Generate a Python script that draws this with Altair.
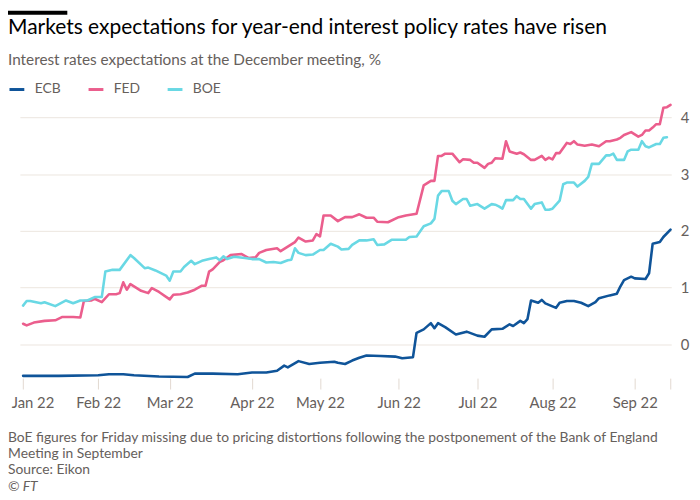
import altair as alt
import pandas as pd

# ---- data (x = trading-day index since 3 Jan 2022, y = implied Dec policy rate, %) ----
ecb_day = [0, 10, 21, 24, 28, 31, 38, 46, 48, 53, 60, 64, 68, 71, 73, 74, 77, 80, 83, 87, 88, 90, 92, 94, 96,
           100, 104, 106, 109, 110, 112, 114, 115, 116, 118, 121, 124, 127, 129, 131, 134, 136, 137, 139,
           140, 141, 142, 144, 145, 146, 149, 150, 152, 154, 156, 158, 160, 161, 164, 166, 167, 168, 170,
           171, 174, 175, 176, 178, 179, 181]
ecb_rate = [-0.56, -0.56, -0.55, -0.53, -0.53, -0.55, -0.57, -0.58, -0.52, -0.52, -0.53, -0.50, -0.50,
            -0.47, -0.38, -0.41, -0.30, -0.35, -0.33, -0.31, -0.33, -0.35, -0.29, -0.24, -0.20, -0.21,
            -0.22, -0.25, -0.23, 0.20, 0.26, 0.37, 0.28, 0.37, 0.30, 0.17, 0.22, 0.15, 0.13, 0.26, 0.27,
            0.35, 0.32, 0.41, 0.37, 0.44, 0.77, 0.73, 0.78, 0.72, 0.64, 0.73, 0.76, 0.76, 0.73, 0.67, 0.74,
            0.81, 0.86, 0.89, 1.02, 1.13, 1.19, 1.16, 1.15, 1.25, 1.77, 1.80, 1.89, 2.02]

fed_day = [0, 1, 3, 6, 9, 11, 14, 16, 17, 19, 20, 22, 24, 26, 27, 28, 29, 30, 33, 35, 36, 38, 41, 42, 44,
           46, 48, 50, 51, 52, 53, 55, 56, 58, 61, 63, 65, 66, 68, 71, 72, 74, 76, 77, 79, 81, 82, 83, 84,
           86, 88, 90, 92, 94, 96, 98, 99, 102, 105, 107, 110, 112, 114, 115, 116, 117, 118, 120, 122, 123,
           125, 126, 127, 129, 130, 131, 132, 134, 135, 136, 138, 139, 140, 142, 143, 145, 146, 147, 148,
           149, 150, 152, 153, 154, 155, 157, 159, 161, 163, 164, 166, 167, 168, 170, 172, 173, 174, 175,
           176, 177, 178, 179, 180, 181]
fed_rate = [0.36, 0.33, 0.38, 0.41, 0.42, 0.48, 0.48, 0.47, 0.76, 0.77, 0.80, 0.74, 0.88, 0.88, 0.90, 1.09,
            0.96, 1.06, 0.94, 0.90, 0.99, 0.92, 0.79, 0.87, 0.88, 0.91, 0.96, 1.03, 1.03, 1.28, 1.32, 1.45,
            1.48, 1.57, 1.59, 1.52, 1.53, 1.61, 1.66, 1.69, 1.64, 1.72, 1.80, 1.88, 1.81, 1.83, 1.94, 1.90,
            2.27, 2.27, 2.17, 2.24, 2.24, 2.29, 2.23, 2.23, 2.16, 2.15, 2.24, 2.27, 2.30, 2.80, 2.88, 2.88,
            3.32, 3.32, 3.36, 3.36, 3.21, 3.26, 3.25, 3.20, 3.20, 3.11, 3.18, 3.20, 3.28, 3.27, 3.58, 3.40,
            3.36, 3.38, 3.35, 3.25, 3.25, 3.32, 3.25, 3.29, 3.26, 3.37, 3.37, 3.55, 3.53, 3.58, 3.52, 3.50,
            3.52, 3.49, 3.58, 3.58, 3.61, 3.64, 3.69, 3.74, 3.66, 3.69, 3.77, 3.77, 3.82, 3.88, 3.88, 4.17,
            4.18, 4.22]

boe_day = [0, 1, 2, 5, 6, 9, 12, 14, 16, 18, 20, 22, 23, 25, 27, 30, 31, 34, 35, 37, 40, 41, 42, 44, 45,
           47, 48, 50, 52, 54, 55, 56, 57, 59, 62, 64, 66, 68, 70, 72, 74, 75, 76, 77, 79, 81, 83, 84, 86,
           88, 89, 91, 92, 94, 96, 98, 99, 101, 103, 105, 107, 108, 110, 112, 114, 115, 116, 117, 119, 120,
           121, 123, 124, 125, 127, 129, 131, 132, 133, 134, 135, 137, 138, 139, 140, 142, 143, 145, 146,
           147, 148, 150, 151, 152, 154, 155, 157, 158, 159, 161, 163, 164, 165, 166, 168, 169, 170, 172,
           173, 174, 175, 177, 178, 179, 180]
boe_rate = [0.68, 0.76, 0.76, 0.72, 0.74, 0.67, 0.77, 0.72, 0.77, 0.77, 0.83, 0.83, 1.28, 1.31, 1.31, 1.57,
            1.52, 1.34, 1.35, 1.30, 1.21, 1.12, 1.28, 1.28, 1.36, 1.47, 1.41, 1.47, 1.50, 1.53, 1.48, 1.55,
            1.50, 1.54, 1.52, 1.50, 1.50, 1.44, 1.45, 1.43, 1.48, 1.49, 1.69, 1.61, 1.57, 1.58, 1.66, 1.66,
            1.77, 1.72, 1.67, 1.68, 1.75, 1.83, 1.83, 1.85, 1.75, 1.76, 1.84, 1.84, 1.84, 1.89, 1.90, 2.08,
            2.13, 2.21, 2.62, 2.70, 2.70, 2.53, 2.47, 2.56, 2.56, 2.44, 2.47, 2.39, 2.47, 2.46, 2.43, 2.39,
            2.54, 2.54, 2.61, 2.56, 2.56, 2.39, 2.47, 2.50, 2.37, 2.37, 2.39, 2.53, 2.82, 2.85, 2.85, 2.78,
            2.88, 2.95, 3.18, 3.18, 3.33, 3.33, 3.36, 3.25, 3.25, 3.40, 3.43, 3.43, 3.58, 3.49, 3.47, 3.53,
            3.53, 3.64, 3.65]

banks = ["ECB", "FED", "BOE"]
bank_colors = ["#0f5499", "#eb5e8d", "#69d8e4"]

month_tick_days = [0, 21, 41, 64, 83, 105, 127, 148, 171, 181]
month_labels = ["Jan 22", "Feb 22", "Mar 22", "Apr 22", "May 22", "Jun 22", "Jul 22", "Aug 22", "Sep 22", ""]
y_ticks = [0, 1, 2, 3, 4]

title_text = "Markets expectations for year-end interest policy rates have risen"
subtitle_text = "Interest rates expectations at the December meeting, %"
note_lines = ["BoE figures for Friday missing due to pricing distortions following the postponement of the Bank of England",
              "Meeting in September",
              "Source: Eikon"]
credit_text = "© FT"

# ---- build table ----
frames = []
for name, d, r in [("ECB", ecb_day, ecb_rate), ("FED", fed_day, fed_rate), ("BOE", boe_day, boe_rate)]:
    frames.append(pd.DataFrame({"day": d, "rate": r, "bank": name}))
df = pd.concat(frames, ignore_index=True)

FONT = "Lato"
GREY = "#66605c"
W, H = 659, 281
TOP = 90.6
TOTAL_H = 490
NOTE_Y = 345.4
LINE_H = 16.5

label_expr = ""
for d, lab in zip(month_tick_days, month_labels):
    label_expr += f"datum.value == {d} ? '{lab}' : "
label_expr += "''"

lines = alt.Chart(df).mark_line(strokeWidth=2.6, strokeCap="round", strokeJoin="round").encode(
    x=alt.X("day:Q",
            scale=alt.Scale(domain=[-0.9, 181.2], nice=False, zero=False),
            axis=alt.Axis(values=month_tick_days, labelExpr=label_expr, title=None, grid=False,
                          domain=False, tickSize=11, tickColor="#e2d9d0", tickWidth=1,
                          labelPadding=7, labelFontSize=15, labelColor=GREY, labelFont=FONT,
                          labelAlign={"condition": {"test": "datum.value == 0", "value": "left"},
                                      "value": "center"},
                          labelOffset={"condition": {"test": "datum.value == 0", "value": -12},
                                       "value": 0},
                          labelFlush=False, labelOverlap=False)),
    y=alt.Y("rate:Q",
            scale=alt.Scale(domain=[-0.6, 4.3], nice=False, zero=False),
            axis=alt.Axis(orient="right", values=y_ticks, title=None, domain=False, ticks=False,
                          tickSize=0, labelPadding=9, labelFontSize=15, labelColor=GREY,
                          labelFont=FONT, gridColor="#ece6df", gridWidth=1)),
    color=alt.Color("bank:N",
                    scale=alt.Scale(domain=banks, range=bank_colors),
                    legend=alt.Legend(title=None, orient="none", legendX=-12, legendY=-20,
                                      direction="horizontal", symbolType="stroke", symbolSize=225,
                                      symbolStrokeWidth=3, labelFontSize=14, labelColor=GREY,
                                      labelFont=FONT, labelOffset=9, columnPadding=19,
                                      gridAlign="all", padding=0)),
    order=alt.Order("day:Q"),
)

bar = alt.Chart(pd.DataFrame({"k": [1]})).mark_rect(color="#000000").encode(
    x=alt.value(-12), x2=alt.value(48), y=alt.value(-TOP), y2=alt.value(-TOP + 4))

title = alt.Chart(pd.DataFrame({"t": [title_text]})).mark_text(
    align="left", baseline="alphabetic", font=FONT, fontSize=21.2, color="#000000").encode(
    text="t:N", x=alt.value(-12), y=alt.value(-67))

subtitle = alt.Chart(pd.DataFrame({"t": [subtitle_text]})).mark_text(
    align="left", baseline="alphabetic", font=FONT, fontSize=15.5, color=GREY).encode(
    text="t:N", x=alt.value(-12), y=alt.value(-35.3))

notes = alt.Chart(pd.DataFrame({"t": [note_lines]})).mark_text(
    align="left", baseline="alphabetic", font=FONT, fontSize=14, color=GREY, lineHeight=LINE_H).encode(
    text="t:N", x=alt.value(-12), y=alt.value(NOTE_Y))

credit = alt.Chart(pd.DataFrame({"t": [credit_text]})).mark_text(
    align="left", baseline="alphabetic", font=FONT, fontSize=14, color=GREY, fontStyle="italic").encode(
    text="t:N", x=alt.value(-12), y=alt.value(NOTE_Y + 3 * LINE_H))

chart = alt.layer(lines, bar, title, subtitle, notes, credit).properties(
    width=W, height=H,
    autosize=alt.AutoSizeParams(type="none"),
    padding={"left": 12, "top": TOP, "right": 21, "bottom": TOTAL_H - TOP - H},
    background="#ffffff",
).configure_view(stroke=None)

chart.save("out.html", embed_options={"renderer": "svg", "actions": False})
